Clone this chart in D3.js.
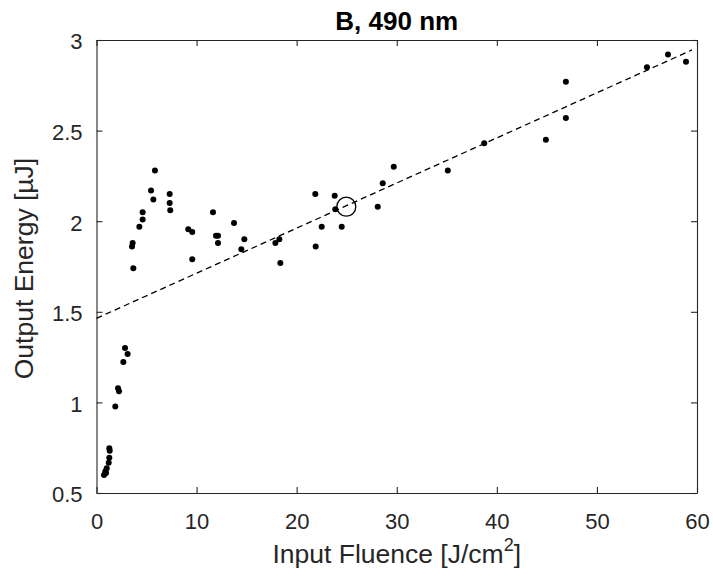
<!DOCTYPE html>
<html>
<head>
<meta charset="utf-8">
<script src="https://cdn.jsdelivr.net/npm/d3@7"></script>
<style>
  body { margin: 0; background: #fff; }
  svg { font-family: "Liberation Sans", Arial, sans-serif; }
</style>
</head>
<body>
<svg id="chart" width="713" height="577"></svg>
<script>
// measured points (input fluence, output energy)
const fluence = [0.75, 0.88, 0.95, 1.02, 1.22, 1.28, 1.32, 1.28, 1.88, 2.15, 2.25, 2.68, 2.85, 3.11,
  3.68, 3.55, 3.61, 4.28, 4.61, 4.61, 5.45, 5.68, 5.84, 7.31, 7.31, 7.37,
  9.17, 9.57, 9.57, 11.64, 11.94, 12.14, 12.14, 13.74, 14.47, 14.77,
  17.87, 18.27, 18.37, 21.86, 21.9, 22.5, 23.8, 23.86, 24.5, 28.1, 28.6, 29.7,
  35.1, 38.74, 44.9, 46.9, 46.9, 55.0, 57.1, 58.9];
const energy = [0.60, 0.618, 0.61, 0.636, 0.667, 0.695, 0.733, 0.747, 0.978, 1.078, 1.061, 1.223, 1.30, 1.267,
  1.74, 1.86, 1.88, 1.97, 2.01, 2.05, 2.17, 2.12, 2.28, 2.15, 2.10, 2.06,
  1.955, 1.94, 1.79, 2.05, 1.92, 1.92, 1.88, 1.99, 1.845, 1.90,
  1.88, 1.90, 1.77, 2.15, 1.86, 1.97, 2.14, 2.066, 1.97, 2.08, 2.21, 2.30,
  2.28, 2.43, 2.45, 2.77, 2.57, 2.85, 2.92, 2.88];

// linear fit endpoints
const fitX = [0, 59.5];
const fitY = [1.464, 2.945];

// highlighted point
const markX = [24.96];
const markY = [2.08];

const xTicks = [0, 10, 20, 30, 40, 50, 60];
const yTicks = [0.5, 1, 1.5, 2, 2.5, 3];

const svg = d3.select("#chart");
const margin = { top: 40, right: 16, bottom: 84, left: 96.5 };
const width = +svg.attr("width") - margin.left - margin.right;
const height = +svg.attr("height") - margin.top - margin.bottom;
const axisColor = "#262626";

const g = svg.append("g").attr("transform", `translate(${margin.left},${margin.top})`);

const x = d3.scaleLinear().domain([0, 60]).range([0, width]);
const y = d3.scaleLinear().domain([0.5, 3]).range([height, 0]);

// axes with inward ticks
const bottomAxis = g.append("g")
  .attr("transform", `translate(0,${height})`)
  .call(d3.axisBottom(x).tickValues(xTicks).tickSizeInner(-6).tickSizeOuter(0).tickFormat(d3.format("d")));
const topAxis = g.append("g")
  .call(d3.axisTop(x).tickValues(xTicks).tickSizeInner(-6).tickSizeOuter(0).tickFormat(""));
const leftAxis = g.append("g")
  .call(d3.axisLeft(y).tickValues(yTicks).tickSizeInner(-6).tickSizeOuter(0).tickPadding(14).tickFormat(d => d));
const rightAxis = g.append("g")
  .attr("transform", `translate(${width},0)`)
  .call(d3.axisRight(y).tickValues(yTicks).tickSizeInner(-6).tickSizeOuter(0).tickFormat(""));

[bottomAxis, topAxis, leftAxis, rightAxis].forEach(a => {
  a.select(".domain").attr("stroke", axisColor).attr("stroke-width", 1.1);
  a.selectAll(".tick line").attr("stroke", axisColor).attr("stroke-width", 1.1);
  a.selectAll(".tick text").attr("fill", axisColor).attr("font-size", "22px")
    .attr("font-family", "Liberation Sans, Arial, sans-serif");
});
bottomAxis.selectAll(".tick text").attr("y", 36).attr("dy", 0);
leftAxis.selectAll(".tick text").attr("dy", "0.4em");

// fit line
g.append("path")
  .datum(fitX.map((d, i) => [d, fitY[i]]))
  .attr("d", d3.line().x(d => x(d[0])).y(d => y(d[1])))
  .attr("fill", "none")
  .attr("stroke", "#000")
  .attr("stroke-width", 1.3)
  .attr("stroke-dasharray", "6,4");

// data points
g.selectAll("circle.pt")
  .data(fluence.map((d, i) => [d, energy[i]]))
  .enter().append("circle")
  .attr("class", "pt")
  .attr("cx", d => x(d[0]))
  .attr("cy", d => y(d[1]))
  .attr("r", 3)
  .attr("fill", "#000");

// open circle marker
g.selectAll("circle.mark")
  .data(markX.map((d, i) => [d, markY[i]]))
  .enter().append("circle")
  .attr("class", "mark")
  .attr("cx", d => x(d[0]))
  .attr("cy", d => y(d[1]))
  .attr("r", 9.5)
  .attr("fill", "none")
  .attr("stroke", "#000")
  .attr("stroke-width", 1.3);

// title
svg.append("text")
  .attr("x", margin.left + width / 2)
  .attr("y", 30)
  .attr("text-anchor", "middle")
  .attr("font-size", "26px")
  .attr("font-weight", "bold")
  .attr("fill", "#000")
  .text("B, 490 nm");

// x label
const xl = svg.append("text")
  .attr("x", margin.left + width / 2)
  .attr("y", 563)
  .attr("text-anchor", "middle")
  .attr("font-size", "26.5px")
  .attr("fill", axisColor);
xl.append("tspan").text("Input Fluence [J/cm");
xl.append("tspan").attr("font-size", "18px").attr("dy", "-12").text("2");
xl.append("tspan").attr("dy", "12").text("]");

// y label
svg.append("text")
  .attr("transform", `translate(33,${margin.top + height / 2 + 2}) rotate(-90)`)
  .attr("text-anchor", "middle")
  .attr("font-size", "26.5px")
  .attr("fill", axisColor)
  .text("Output Energy [µJ]");
</script>
</body>
</html>
